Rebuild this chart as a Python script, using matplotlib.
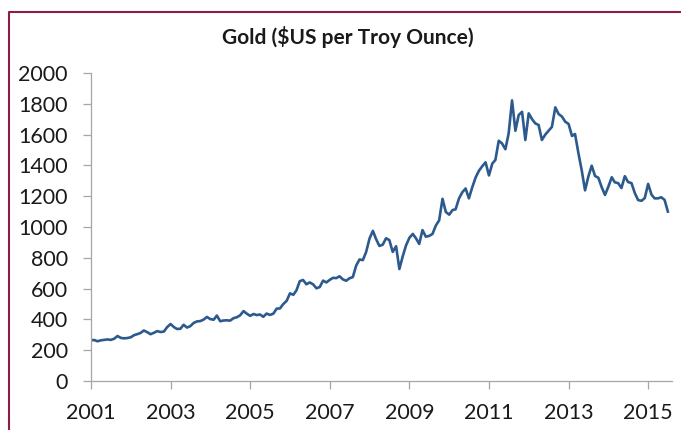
import matplotlib
matplotlib.use("Agg")
import matplotlib.pyplot as plt
import matplotlib.lines as mlines
import pandas as pd

plt.rcParams["font.family"] = ["Lato", "DejaVu Sans"]

LINE = "#2c5a8e"
AXIS = "#a6a6a6"
TEXT = "#1a1a1a"
FRAME = "#8c1c4a"

# month-end gold price, Jan 2001 .. Jul 2015 ($US per troy ounce)
price = [
    265, 266, 258, 264, 267, 270, 267, 274, 292, 280, 277, 279,              # 2001
    284, 298, 304, 312, 328, 317, 304, 313, 324, 318, 321, 350,              # 2002
    370, 350, 338, 339, 365, 347, 356, 377, 387, 389, 399, 416,              # 2003
    402, 398, 425, 388, 393, 394, 392, 408, 414, 427, 454, 437,              # 2004
    423, 435, 428, 432, 417, 438, 429, 437, 470, 471, 500, 520,              # 2005
    569, 560, 588, 648, 656, 628, 640, 628, 602, 610, 652, 640,              # 2006
    657, 670, 668, 680, 660, 651, 667, 675, 750, 789, 785, 838,              # 2007
    925, 975, 922, 877, 885, 927, 915, 838, 875, 727, 810, 880,              # 2008
    930, 955, 928, 890, 980, 937, 942, 955, 1010, 1043, 1183, 1098,          # 2009
    1080, 1110, 1115, 1185, 1225, 1250, 1186, 1258, 1322, 1365, 1395, 1420,  # 2010
    1335, 1412, 1435, 1560, 1543, 1505, 1608, 1822, 1625, 1727, 1748, 1565,  # 2011
    1738, 1700, 1673, 1662, 1565, 1600, 1625, 1650, 1777, 1734, 1717, 1684,  # 2012
    1669, 1591, 1604, 1480, 1370, 1238, 1327, 1398, 1331, 1320, 1258, 1208,  # 2013
    1262, 1323, 1290, 1285, 1253, 1330, 1292, 1285, 1220, 1175, 1170, 1188,  # 2014
    1280, 1210, 1186, 1186, 1193, 1176, 1100,                                # 2015
]
tick_years = [2001, 2003, 2005, 2007, 2009, 2011, 2013, 2015]
y_ticks = list(range(0, 2001, 200))

months = pd.date_range("2001-01-01", periods=len(price), freq="MS")

fig = plt.figure(figsize=(6.81, 4.30), dpi=100)
ax = fig.add_axes([91 / 681, 1 - 381 / 430, (672 - 91) / 681, (381 - 73) / 430])

ax.plot(months, price, color=LINE, lw=1.9, solid_joinstyle="round")

ax.set_ylim(0, 2000)
ax.set_yticks(y_ticks)
ticks = [pd.Timestamp(f"{y}-01-01") for y in tick_years]
ax.set_xticks(ticks)
ax.set_xticklabels([str(y) for y in tick_years])
ax.set_xlim(months[0], pd.Timestamp("2015-08-08"))

for sp in ("top", "right"):
    ax.spines[sp].set_visible(False)
for sp in ("left", "bottom"):
    ax.spines[sp].set_color(AXIS)
    ax.spines[sp].set_linewidth(0.9)
ax.tick_params(axis="both", colors=AXIS, width=0.9, length=5.8,
               labelsize=15.5, labelcolor=TEXT)
ax.tick_params(axis="y", pad=11)
ax.tick_params(axis="x", pad=10)

fig.text(347.5 / 681, 1 - 37 / 430, "Gold ($US per Troy Ounce)", ha="center",
         va="center", fontsize=15, fontweight="bold", color=TEXT)

# maroon frame peeking in at the left and top
fig.add_artist(mlines.Line2D([8.5 / 681, 8.5 / 681, 1.0], [0.0, 1 - 12 / 430, 1 - 12 / 430],
                             transform=fig.transFigure, color=FRAME, lw=1.5))

fig.savefig("out.png", dpi=100, facecolor="white")
